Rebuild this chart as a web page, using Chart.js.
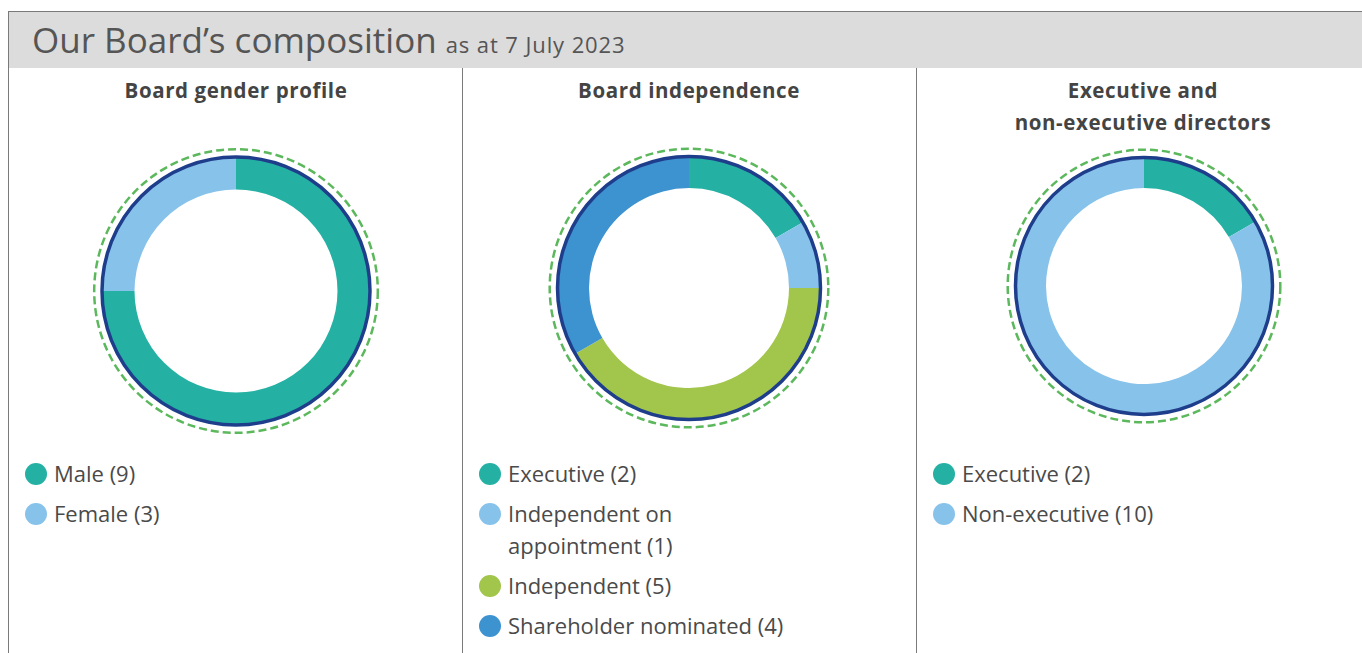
<!DOCTYPE html>
<html>
<head>
<meta charset="utf-8">
<script src="https://cdn.jsdelivr.net/npm/chart.js@4"></script>
<style>
  html, body { margin: 0; padding: 0; background: #fff; }
  body { width: 1362px; height: 653px; position: relative; overflow: hidden; font-family: "Open Sans", Lato, sans-serif; color: #4a4a4a; }
  #frame { position: absolute; left: 8px; top: 11px; width: 1400px; height: 700px; border-left: 1.5px solid #7a7a7a; border-top: 1.5px solid #7a7a7a; }
  #header { position: absolute; left: 9px; top: 12px; width: 1400px; height: 56px; background: #dcdcdc; }
  #header .t { position: absolute; left: 23px; top: 4px; font-size: 35px; line-height: normal; color: #555; white-space: nowrap; }
  #header .t small { font-size: 22px; letter-spacing: 0.9px; }
  .divider { position: absolute; top: 68px; height: 600px; border-left: 1.5px solid #7a7a7a; }
  .ptitle { position: absolute; top: 74px; width: 440px; text-align: center; font-weight: bold; font-size: 20.5px; letter-spacing: 0.6px; line-height: 32px; color: #444; }
  .chartbox { position: absolute; width: 300px; height: 300px; }
  .legend { position: absolute; top: 457px; font-size: 22px; line-height: 32px; }
  .legend .item { position: relative; padding-left: 29px; margin-bottom: 8px; white-space: pre-line; }
  .legend .dot { position: absolute; left: 0; top: 6px; width: 22px; height: 22px; border-radius: 50%; }
</style>
</head>
<body>
<div id="frame"></div>
<div id="header"><div class="t">Our Board’s composition <small>as at 7 July 2023</small></div></div>
<div class="divider" style="left:462px"></div>
<div class="divider" style="left:916px"></div>

<div class="ptitle" style="left:16px">Board gender profile</div>
<div class="ptitle" style="left:469px">Board independence</div>
<div class="ptitle" style="left:923px">Executive and<br>non-executive directors</div>

<div class="chartbox" style="left:86px;top:141px"><canvas id="c1"></canvas></div>
<div class="chartbox" style="left:539px;top:138px"><canvas id="c2"></canvas></div>
<div class="chartbox" style="left:994px;top:136px"><canvas id="c3"></canvas></div>

<div class="legend" id="l1" style="left:25px"></div>
<div class="legend" id="l2" style="left:479px"></div>
<div class="legend" id="l3" style="left:933px"></div>

<script>
// data
var genderLabels = ['Male', 'Female'];
var genderValues = [9, 3];

var indepLabels = ['Executive', 'Independent on\nappointment', 'Independent', 'Shareholder nominated'];
var indepValues = [2, 1, 5, 4];

var execLabels = ['Executive', 'Non-executive'];
var execValues = [2, 10];

var teal = '#24b1a4';
var lightBlue = '#86c2ea';
var green = '#a2c54b';
var blue = '#3d92d0';

// rings round the doughnut: navy solid + green dashed
var ringPlugin = {
  id: 'rings',
  afterDatasetsDraw: function(chart) {
    var arc = chart.getDatasetMeta(0).data[0];
    var ctx = chart.ctx;
    ctx.save();
    ctx.beginPath();
    ctx.arc(arc.x, arc.y, arc.outerRadius, 0, Math.PI * 2);
    ctx.lineWidth = 3.5;
    ctx.strokeStyle = '#1e3e8c';
    ctx.stroke();
    ctx.beginPath();
    ctx.arc(arc.x, arc.y, arc.outerRadius + 7.8, 0, Math.PI * 2);
    ctx.lineWidth = 2.5;
    ctx.setLineDash([8, 4]);
    ctx.strokeStyle = '#5cb85c';
    ctx.stroke();
    ctx.restore();
  }
};

function makeDonut(id, labels, values, colors, radius, inner) {
  var ctx = document.getElementById(id).getContext('2d');
  return new Chart(ctx, {
    type: 'doughnut',
    data: {
      labels: labels,
      datasets: [{
        data: values,
        backgroundColor: colors,
        borderWidth: 0
      }]
    },
    options: {
      responsive: true,
      maintainAspectRatio: false,
      animation: false,
      radius: radius,
      cutout: (inner / radius * 100) + '%',
      plugins: {
        legend: { display: false },
        tooltip: { enabled: false }
      }
    },
    plugins: [ringPlugin]
  });
}

function makeLegend(id, labels, values, colors) {
  var box = document.getElementById(id);
  for (var i = 0; i < labels.length; i++) {
    var item = document.createElement('div');
    item.className = 'item';
    var dot = document.createElement('span');
    dot.className = 'dot';
    dot.style.background = colors[i];
    item.appendChild(dot);
    item.appendChild(document.createTextNode(labels[i] + ' (' + values[i] + ')'));
    box.appendChild(item);
  }
}

var c1 = [teal, lightBlue];
var c2 = [teal, lightBlue, green, blue];
var c3 = [teal, lightBlue];

makeDonut('c1', genderLabels, genderValues, c1, 134, 101.5);
makeDonut('c2', indepLabels, indepValues, c2, 131.5, 100);
makeDonut('c3', execLabels, execValues, c3, 128.5, 98);

makeLegend('l1', genderLabels, genderValues, c1);
makeLegend('l2', indepLabels, indepValues, c2);
makeLegend('l3', execLabels, execValues, c3);
</script>
</body>
</html>
